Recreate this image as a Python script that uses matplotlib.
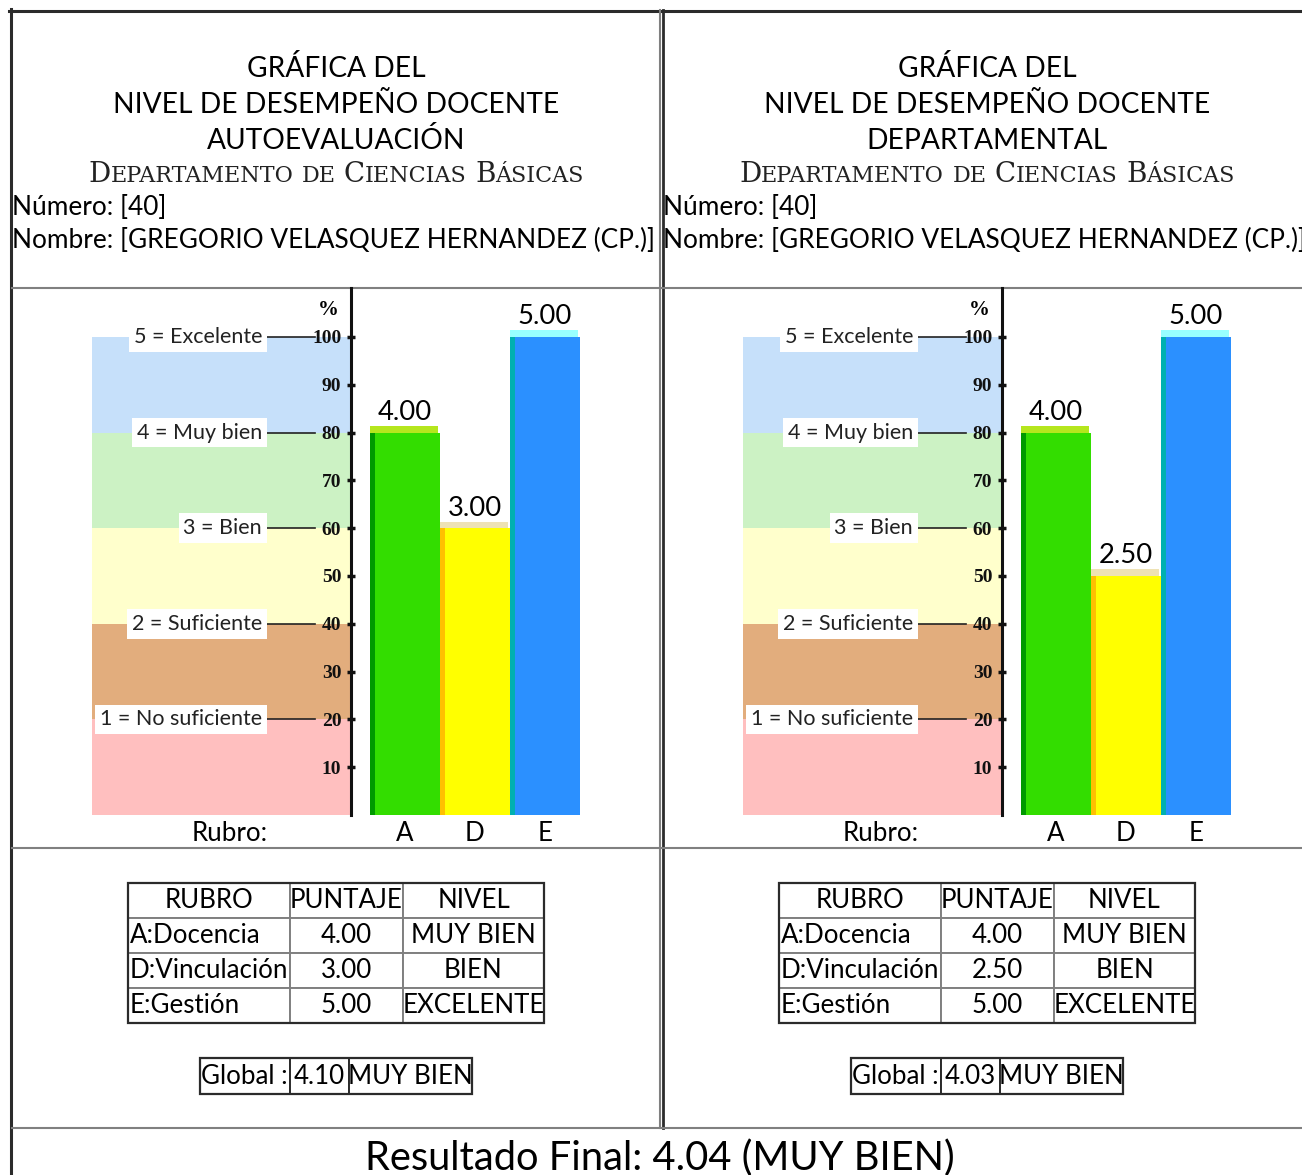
import matplotlib
matplotlib.use('Agg')
import matplotlib.pyplot as plt
import numpy as np
from matplotlib.table import Table
from matplotlib.patches import Rectangle
from matplotlib.offsetbox import TextArea, HPacker, AnnotationBbox

W, H = 1302, 1175
SANS = 'Lato'
SERIF = 'DejaVu Serif'

# datos
rubros = ['A', 'D', 'E']
rubro_nombres = ['A:Docencia', 'D:Vinculación', 'E:Gestión']
tipos = ['AUTOEVALUACIÓN', 'DEPARTAMENTAL']
puntajes = [[4.00, 3.00, 5.00], [4.00, 2.50, 5.00]]
niveles = [['MUY BIEN', 'BIEN', 'EXCELENTE'], ['MUY BIEN', 'BIEN', 'EXCELENTE']]
globales = [4.10, 4.03]
niveles_globales = ['MUY BIEN', 'MUY BIEN']
resultado_final = 4.04
resultado_nivel = 'MUY BIEN'
numero = 40
nombre = 'GREGORIO VELASQUEZ HERNANDEZ (CP.)'
departamento = 'Departamento de Ciencias Básicas'
escala_limites = [0, 20, 40, 60, 80, 100]
escala_etiquetas = ['1 = No suficiente', '2 = Suficiente', '3 = Bien', '4 = Muy bien', '5 = Excelente']
escala_ticks = [10, 20, 30, 40, 50, 60, 70, 80, 90, 100]

colores_banda = ['#FFBFBF', '#E2AD7D', '#FFFFCC', '#CCF2C4', '#C6E0FA']
color_barra = ['#33DD00', '#FFFF00', '#2B90FF']
color_lado = ['#009900', '#FFC000', '#00B0B0']
color_tapa = ['#B5E61D', '#EEE2B4', '#99FFFF']

fig = plt.figure(figsize=(W / 100, H / 100), dpi=100)
page = fig.add_axes([0, 0, 1, 1])
page.set_xlim(0, W)
page.set_ylim(H, 0)
page.axis('off')
renderer = fig.canvas.get_renderer()


def medir(s, family=SANS, size=20, weight='normal'):
    t = page.text(0, 0, s, fontsize=size, family=family, weight=weight)
    w = t.get_window_extent(renderer).width
    t.remove()
    return w


def ajustar(s, ancho, family=SANS):
    return 20 * ancho / medir(s, family)


fs_titulo = ajustar('NIVEL DE DESEMPEÑO DOCENTE', 443)
fs_info = ajustar('Nombre: [' + nombre + ']', 643)
fs_tabla = ajustar('D:Vinculación', 158)
fs_valor = ajustar('4.00', 54)
fs_rubro = ajustar('Rubro:', 76)
fs_escala = ajustar('5 = Excelente', 129)
fs_final = ajustar('Resultado Final: 4.04 (MUY BIEN)', 590)

# bordes
gris = '#808080'
oscuro = '#2b2b2b'
page.plot([9, W], [10.5, 10.5], color=oscuro, lw=2.2)
page.plot([10.5, 10.5], [9, H], color=oscuro, lw=2.2)
page.plot([660, 660], [10, 1128], color=gris, lw=1.5)
page.plot([662.5, 662.5], [10, 1128], color=oscuro, lw=2)
for yy in [288, 848, 1128]:
    page.plot([12, W], [yy, yy], color=gris, lw=1.5)


def versalitas(xc, yb, texto, grande, chica):
    palabras = []
    for w in texto.split():
        partes = []
        if w[0].isupper():
            partes.append(TextArea(w[0], textprops=dict(fontsize=grande, family=SERIF, color='#222')))
            resto = w[1:]
        else:
            resto = w
        partes.append(TextArea(resto.upper(), textprops=dict(fontsize=chica, family=SERIF, color='#222')))
        palabras.append(HPacker(children=partes, pad=0, sep=0, align='baseline'))
    caja = HPacker(children=palabras, pad=0, sep=6, align='baseline')
    ab = AnnotationBbox(caja, (xc, yb), xycoords='data', frameon=False,
                        box_alignment=(0.5, 0.2), pad=0)
    page.add_artist(ab)


def tabla(x0, y0, anchos, alto, filas, locs, borde_int):
    tot = sum(anchos)
    n = len(filas)
    tb = Table(page, bbox=[x0 / W, 1 - (y0 + alto * n) / H, tot / W, alto * n / H])
    for r, fila in enumerate(filas):
        for c, txt in enumerate(fila):
            cell = tb.add_cell(r, c, anchos[c] / tot, 1 / n, text=txt, loc=locs[r][c])
            cell.PAD = 0.01
            cell.set_edgecolor(borde_int)
            cell.set_linewidth(1.4)
            cell.get_text().set_fontfamily(SANS)
            cell.get_text().set_fontsize(fs_tabla)
    tb.auto_set_font_size(False)
    page.add_table(tb)
    page.add_patch(Rectangle((x0, y0), tot, alto * n, fill=False, ec=oscuro, lw=1.6, zorder=5))


def grafica(dx, puntos):
    ax = fig.add_axes([(dx + 92) / W, 1 - 815 / H, 488 / W, 527 / H])
    ax.patch.set_alpha(0)
    x_izq, x_der = -4.471, 2.5
    eje_x = -0.771
    ax.set_xlim(x_izq, x_der)
    ax.set_ylim(0, 110.25)
    for s in ['top', 'right', 'bottom']:
        ax.spines[s].set_visible(False)
    ax.spines['left'].set_position(('data', eje_x))
    ax.spines['left'].set_linewidth(2.2)
    ax.spines['left'].set_color('#111111')

    for lo, hi, c in zip(escala_limites[:-1], escala_limites[1:], colores_banda):
        ax.fill_betweenx([lo, hi], x_izq, eje_x, color=c, lw=0, zorder=0)
    for nivel, et in zip(escala_limites[1:], escala_etiquetas):
        ax.plot([eje_x - 88 / 70, eje_x - 36 / 70], [nivel, nivel], color='#222', lw=1.2, zorder=1)
        ax.text(eje_x - 89 / 70, nivel, et, ha='right', va='center', fontsize=fs_escala,
                family=SANS, color='#222', zorder=2,
                bbox=dict(boxstyle='square,pad=0.22', fc='white', ec='none'))

    ax.set_yticks(escala_ticks)
    ax.set_yticklabels([str(t) for t in escala_ticks])
    ax.tick_params(axis='y', direction='inout', length=6, width=2.5, pad=4, colors='#111')
    for lbl in ax.get_yticklabels():
        lbl.set_fontfamily('Liberation Serif')
        lbl.set_fontweight('bold')
        lbl.set_fontsize(14)
    ax.annotate('%', xy=(eje_x, 105.6), xytext=(-23, 0), textcoords='offset pixels',
                ha='center', va='center', fontsize=15, family='Liberation Serif', weight='bold')

    x = np.arange(len(rubros))
    alturas = np.array(puntos) * 20
    lado = 5 / 70
    ax.bar(x - 0.5, alturas, width=lado, align='edge', color=color_lado, lw=0, zorder=3)
    ax.bar(x - 0.5 + lado, alturas, width=1 - lado, align='edge', color=color_barra, lw=0, zorder=3)
    ax.bar(x - 0.5, 1.4, bottom=alturas, width=0.97, align='edge', color=color_tapa, lw=0, zorder=3)
    for xi, h, v in zip(x, alturas, puntos):
        ax.annotate(f'{v:.2f}', xy=(xi, h + 1.4), xytext=(0, 6), textcoords='offset pixels',
                    ha='center', va='baseline', fontsize=fs_valor, family=SANS)

    ax.set_xticks([-2.5] + list(x))
    ax.set_xticklabels(['Rubro:'] + rubros)
    ax.tick_params(axis='x', length=0, pad=4)
    for lbl in ax.get_xticklabels():
        lbl.set_fontfamily(SANS)
        lbl.set_fontsize(fs_rubro)


for i, tipo in enumerate(tipos):
    dx = i * 651
    cx = 336 + dx
    page.text(cx, 77, 'GRÁFICA DEL', ha='center', va='baseline', fontsize=fs_titulo, family=SANS)
    page.text(cx, 113, 'NIVEL DE DESEMPEÑO DOCENTE', ha='center', va='baseline', fontsize=fs_titulo, family=SANS)
    page.text(cx, 149, tipo, ha='center', va='baseline', fontsize=fs_titulo, family=SANS)
    versalitas(cx, 183, departamento, 20, 16)
    page.text(12 + dx, 215, f'Número: [{numero}]', ha='left', va='baseline', fontsize=fs_info, family=SANS)
    page.text(12 + dx, 248, f'Nombre: [{nombre}]', ha='left', va='baseline', fontsize=fs_info, family=SANS)

    grafica(dx, puntajes[i])

    filas = [['RUBRO', 'PUNTAJE', 'NIVEL']]
    locs = [['center', 'center', 'center']]
    for rn, p, nv in zip(rubro_nombres, puntajes[i], niveles[i]):
        filas.append([rn, f'{p:.2f}', nv])
        locs.append(['left', 'center', 'center'])
    tabla(128 + dx, 883, [162, 113, 141], 35, filas, locs, gris)
    tabla(200 + dx, 1058, [90, 59, 123], 36,
          [['Global :', f'{globales[i]:.2f}', niveles_globales[i]]],
          [['left', 'center', 'center']], oscuro)

page.text(660, 1170, f'Resultado Final: {resultado_final:.2f} ({resultado_nivel})',
          ha='center', va='baseline', fontsize=fs_final, family=SANS)

fig.savefig('out.png', dpi=100)
